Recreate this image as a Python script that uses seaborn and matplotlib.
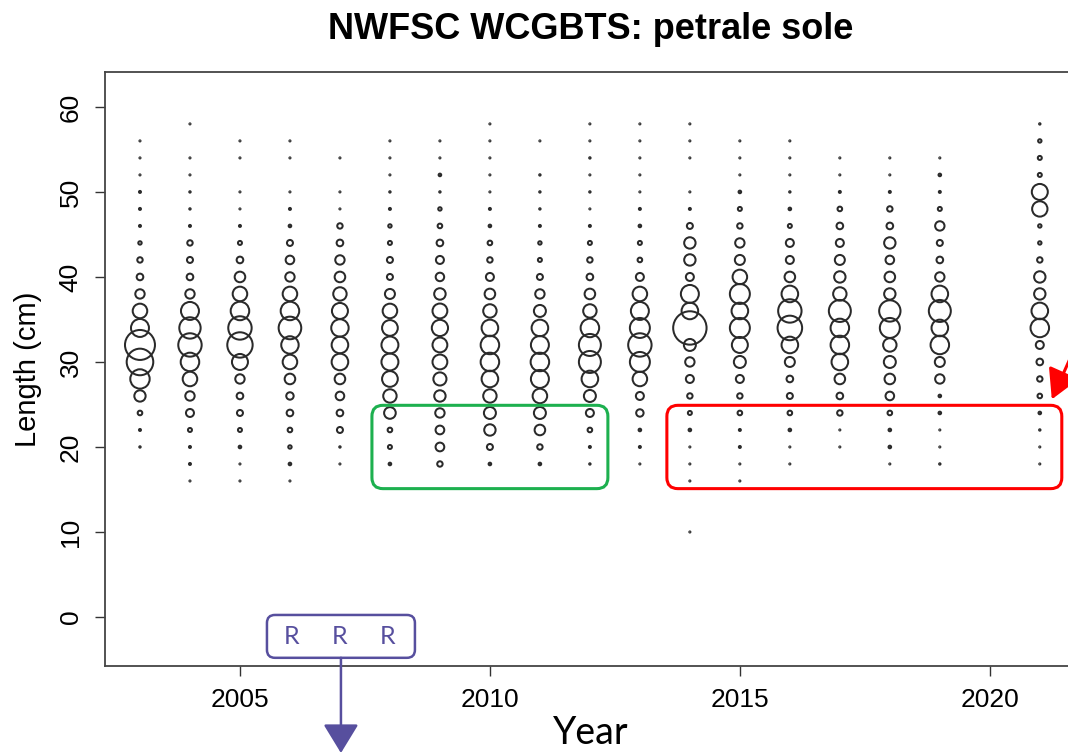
import matplotlib
matplotlib.use("Agg")
import matplotlib.pyplot as plt
import numpy as np
import pandas as pd
import seaborn as sns
from matplotlib.patches import FancyBboxPatch, FancyArrowPatch

# length bins (cm) and survey length composition per year (relative bubble area)
lengths = [10, 12, 14, 16, 18, 20, 22, 24, 26, 28, 30, 32, 34,
           36, 38, 40, 42, 44, 46, 48, 50, 52, 54, 56, 58]

comp_2003 = [0, 0, 0, 0, 0, 0.05, 0.1, 0.53, 3.2, 9.4, 17.7, 22.5, 8.1,
             5.3, 2.2, 1.1, 0.73, 0.29, 0.1, 0.1, 0.1, 0.03, 0.03, 0.03, 0]
comp_2004 = [0, 0, 0, 0.03, 0.1, 0.1, 0.4, 1.6, 2.2, 5.3, 8.6, 13.7, 11.4,
             8.1, 2.2, 1.1, 0.9, 0.73, 0.1, 0.05, 0.05, 0.03, 0.03, 0, 0.03]
comp_2005 = [0, 0, 0, 0.03, 0.03, 0.17, 0.4, 0.9, 1.1, 2.2, 6.4, 16.1, 13.7,
             8.6, 5.3, 2.8, 1.1, 0.4, 0.1, 0.03, 0.03, 0, 0.03, 0.03, 0]
comp_2006 = [0, 0, 0, 0.03, 0.17, 0.29, 0.53, 1.1, 1.37, 2.8, 5.3, 7.6, 12.8,
             8.6, 5.3, 2.2, 1.85, 0.9, 0.17, 0.1, 0.03, 0, 0.03, 0.03, 0]
comp_2007 = [0, 0, 0, 0, 0.03, 0.05, 0.9, 1.1, 1.85, 2.8, 6.9, 6.9, 7.6,
             6.4, 4.5, 2.8, 2.2, 1.1, 0.73, 0.03, 0.03, 0, 0.03, 0, 0]
comp_2008 = [0, 0, 0, 0, 0.17, 0.4, 0.53, 3.4, 4.5, 6.2, 7.2, 7.2, 6.2,
             5.3, 2.5, 0.9, 0.9, 0.4, 0.29, 0.1, 0.05, 0.03, 0.03, 0.03, 0]
comp_2009 = [0, 0, 0, 0, 0.73, 1.9, 1.9, 2.2, 3.25, 4.3, 5.5, 5.5, 6.6,
             5.5, 3.3, 1.8, 1.6, 1.1, 0.53, 0.29, 0.05, 0.17, 0.03, 0.03, 0]
comp_2010 = [0, 0, 0, 0, 0.17, 0.9, 3.25, 3.6, 4.5, 6.9, 8.6, 8.6, 6.9,
             4.5, 2.8, 1.6, 0.73, 0.53, 0.17, 0.1, 0.03, 0.03, 0.03, 0.03, 0.03]
comp_2011 = [0, 0, 0, 0, 0.17, 0.73, 2.8, 3.6, 5.3, 8.1, 8.6, 8.1, 6.9,
             3.6, 2.2, 0.9, 0.4, 0.29, 0.1, 0.05, 0.05, 0.05, 0, 0.03, 0]
comp_2012 = [0, 0, 0, 0, 0.05, 0.1, 0.53, 1.6, 3.6, 6.9, 12.1, 12.1, 8.6,
             4.5, 2.8, 1.1, 0.73, 0.4, 0.1, 0.03, 0.05, 0.03, 0.05, 0.03, 0.03]
comp_2013 = [0, 0, 0, 0, 0.03, 0.1, 0.17, 1.37, 1.6, 5.3, 10, 13.7, 10,
             8.1, 5.3, 1.6, 0.53, 0.4, 0.17, 0.1, 0.03, 0.03, 0.03, 0.03, 0.03]
comp_2014 = [0.03, 0, 0, 0.03, 0.03, 0.03, 0.17, 0.4, 0.73, 1.6, 2.2, 3.6, 27.9,
             6.9, 8.1, 1.6, 3.25, 3.25, 0.9, 0.1, 0.03, 0, 0.03, 0.03, 0.03]
comp_2015 = [0, 0, 0, 0.03, 0.03, 0.1, 0.1, 0.53, 0.73, 1.6, 3.6, 6.4, 10,
             6.9, 10, 5.3, 2.5, 2.2, 0.73, 0.4, 0.17, 0.03, 0.03, 0.03, 0]
comp_2016 = [0, 0, 0, 0, 0.03, 0.03, 0.17, 0.53, 0.9, 1.1, 2.5, 6.9, 15.1,
             13.7, 6.9, 2.8, 1.6, 1.6, 0.4, 0.17, 0.05, 0.03, 0.03, 0.03, 0]
comp_2017 = [0, 0, 0, 0, 0, 0.03, 0.03, 0.73, 1.1, 2.8, 6.9, 8.6, 8.6,
             12.1, 4.5, 3.25, 2.5, 1.6, 1.1, 0.53, 0.1, 0.03, 0.03, 0, 0]
comp_2018 = [0, 0, 0, 0, 0.03, 0.17, 0.17, 0.53, 1.85, 2.8, 3.6, 4.5, 10,
             11.4, 3.25, 2.8, 1.85, 3.25, 1.1, 0.73, 0.1, 0.03, 0.03, 0, 0]
comp_2019 = [0, 0, 0, 0, 0.05, 0.03, 0.03, 0.17, 0.17, 2.2, 2.5, 8.6, 6.9,
             12.1, 6.9, 2.2, 1.1, 0.9, 2.2, 0.4, 0.1, 0.17, 0.03, 0, 0]
comp_2021 = [0, 0, 0, 0, 0.03, 0.03, 0.05, 0.17, 0.53, 0.73, 1.1, 1.6, 8.6,
             6.9, 3.25, 3.25, 0.73, 0.29, 0.29, 5.9, 6.4, 0.4, 0.4, 0.29, 0.05]

years = [2003, 2004, 2005, 2006, 2007, 2008, 2009, 2010, 2011, 2012,
         2013, 2014, 2015, 2016, 2017, 2018, 2019, 2021]
comps = [comp_2003, comp_2004, comp_2005, comp_2006, comp_2007, comp_2008,
         comp_2009, comp_2010, comp_2011, comp_2012, comp_2013, comp_2014,
         comp_2015, comp_2016, comp_2017, comp_2018, comp_2019, comp_2021]

x_ticks = [2005, 2010, 2015, 2020]
y_ticks = [0, 10, 20, 30, 40, 50, 60]

df = pd.DataFrame(
    [(yr, ln, p) for yr, c in zip(years, comps) for ln, p in zip(lengths, c)],
    columns=["year", "length", "prop"],
)
df = df[df["prop"] > 0]

sns.set_style("white")
plt.rcParams["font.family"] = ["Liberation Sans", "DejaVu Sans"]
plt.rcParams["text.color"] = "black"
plt.rcParams["axes.labelcolor"] = "black"

fig = plt.figure(figsize=(10.68, 7.52), dpi=100)
ax = fig.add_axes([0.0983, 0.1144, 0.909, 0.790])

pmax = df["prop"].max()
sns.scatterplot(
    data=df,
    x="year",
    y="length",
    size="prop",
    sizes=(0, 20.7 * pmax),
    size_norm=(0, pmax),
    facecolor="none",
    edgecolor="#2a2a2a",
    linewidth=1.45,
    legend=False,
    ax=ax,
)

ax.set_xlim(2002.3, 2021.72)
ax.set_ylim(-5.76, 64.12)
ax.set_xticks(x_ticks)
ax.set_yticks(y_ticks)
ax.set_yticklabels([str(v) for v in y_ticks], rotation=90, va="center")
ax.tick_params(axis="both", direction="out", length=7, width=1.0,
               labelsize=19, color="#333333", labelcolor="black",
               left=True, bottom=True)
ax.tick_params(axis="x", pad=9)
ax.tick_params(axis="y", pad=9)
for sp in ax.spines.values():
    sp.set_color("#444444")
    sp.set_linewidth(1.3)
    sp.set_visible(True)

ax.set_xlabel("Year", fontsize=27, family=["Lato", "DejaVu Sans"], labelpad=2)
ax.set_ylabel("Length (cm)", fontsize=21, labelpad=12)
ax.set_title("NWFSC WCGBTS: petrale sole", fontsize=26, fontweight="bold",
             pad=24, color="black")

# callout boxes drawn over the bubbles
asp = 50 / 8.5
green = FancyBboxPatch((2007.64, 15.1), 2012.36 - 2007.64, 24.9 - 15.1,
                       boxstyle="round,pad=0,rounding_size=0.22",
                       mutation_aspect=asp, fill=False, ec="#1db04f", lw=2.2,
                       clip_on=False)
red = FancyBboxPatch((2013.54, 15.1), 2021.44 - 2013.54, 24.9 - 15.1,
                     boxstyle="round,pad=0,rounding_size=0.22",
                     mutation_aspect=asp, fill=False, ec="#ff0000", lw=2.2,
                     clip_on=False)
purple = "#574f9e"
rbox = FancyBboxPatch((2005.54, -4.8), 2008.5 - 2005.54, 0.24 + 4.8,
                      boxstyle="round,pad=0,rounding_size=0.16",
                      mutation_aspect=asp, fc="white", ec=purple, lw=1.8,
                      clip_on=False, zorder=5)
for p in (green, red, rbox):
    ax.add_patch(p)
for xr in (2006.04, 2007.0, 2007.96):
    ax.text(xr, -2.3, "R", color=purple, fontsize=18, ha="center", va="center",
            family=["Lato", "DejaVu Sans"], zorder=6)

ax.add_patch(FancyArrowPatch((2007.02, -4.8), (2007.02, -16.0),
                             arrowstyle="-|>,head_length=0.9,head_width=0.55",
                             mutation_scale=20, color=purple, lw=1.8,
                             clip_on=False, zorder=6, shrinkA=0, shrinkB=0))
ax.add_patch(FancyArrowPatch((2021.62, 30.6), (2021.24, 25.6),
                             arrowstyle="-|>,head_length=0.9,head_width=0.5",
                             mutation_scale=20, color="#ff0000", lw=2.2,
                             clip_on=False, zorder=6, shrinkA=0, shrinkB=0))

fig.savefig("out.png", dpi=100)
